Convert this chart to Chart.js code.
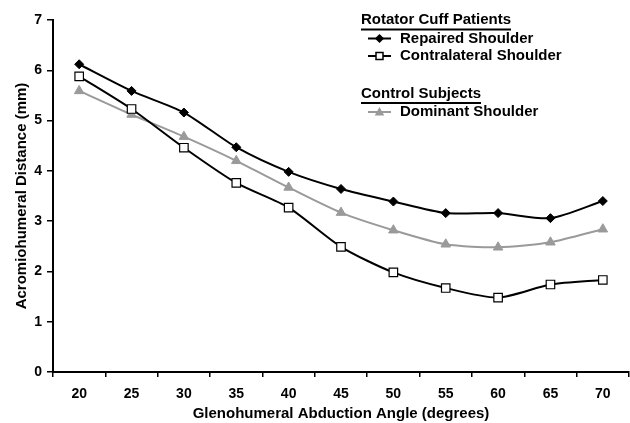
<!DOCTYPE html>
<html>
<head>
<meta charset="utf-8">
<script src="https://cdn.jsdelivr.net/npm/chart.js@4.4.1/dist/chart.umd.min.js"></script>
<style>
  body { margin: 0; background: #fff; }
  canvas { display: block; }
</style>
</head>
<body>
<canvas id="myChart" width="630" height="423"></canvas>
<script>
// abduction angles on the x axis
const angles = ["20", "25", "30", "35", "40", "45", "50", "55", "60", "65", "70"];
// acromiohumeral distance (mm)
const repaired = [6.12, 5.59, 5.16, 4.47, 3.98, 3.64, 3.39, 3.16, 3.16, 3.06, 3.40];
const contralateral = [5.88, 5.23, 4.46, 3.76, 3.27, 2.49, 1.98, 1.67, 1.48, 1.74, 1.83];
const dominant = [5.59, 5.12, 4.68, 4.20, 3.67, 3.17, 2.82, 2.54, 2.48, 2.58, 2.84];
const yTicks = [0, 1, 2, 3, 4, 5, 6, 7];

const FONT = "'Liberation Sans', Arial, sans-serif";
const GRAY = "#9a9a9a";

// legend groups like the original (header + underline, then items)
const legendGroups = [
    { title: "Rotator Cuff Patients", y: 20, items: [0, 1] },
    { title: "Control Subjects", y: 93.5, items: [2] }
];

function drawMarker(ctx, style, x, y, r, fill, stroke) {
    ctx.save();
    ctx.fillStyle = fill;
    ctx.strokeStyle = stroke;
    ctx.lineWidth = 1.5;
    ctx.beginPath();
    if (style === "rectRot") {
        ctx.moveTo(x, y - r); ctx.lineTo(x + r, y); ctx.lineTo(x, y + r); ctx.lineTo(x - r, y);
    } else if (style === "rect") {
        ctx.rect(x - r, y - r, 2 * r, 2 * r);
    } else {
        ctx.moveTo(x, y - r); ctx.lineTo(x + r, y + r * 0.8); ctx.lineTo(x - r, y + r * 0.8);
    }
    ctx.closePath();
    ctx.fill();
    ctx.stroke();
    ctx.restore();
}

const groupLegend = {
    id: "groupLegend",
    afterDraw(chart) {
        const ctx = chart.ctx;
        const ds = chart.data.datasets;
        ctx.save();
        ctx.font = "bold 15px " + FONT;
        ctx.textBaseline = "middle";
        ctx.fillStyle = "#000";
        legendGroups.forEach(g => {
            const x0 = 361;
            ctx.fillText(g.title, x0, g.y);
            const w = ctx.measureText(g.title).width;
            ctx.strokeStyle = "#000";
            ctx.lineWidth = 2;
            ctx.beginPath();
            ctx.moveTo(x0, g.y + 9.5);
            ctx.lineTo(x0 + w, g.y + 9.5);
            ctx.stroke();
            g.items.forEach((idx, k) => {
                const d = ds[idx];
                const yy = g.y + 18.5 + k * 17.5;
                ctx.strokeStyle = d.borderColor;
                ctx.lineWidth = 2;
                ctx.beginPath();
                ctx.moveTo(368, yy);
                ctx.lineTo(391, yy);
                ctx.stroke();
                drawMarker(ctx, d.pointStyle, 379.5, yy, 3.5, d.pointBackgroundColor, d.pointBorderColor);
                ctx.fillStyle = "#000";
                ctx.fillText(d.label, 400, yy);
            });
        });
        ctx.restore();
    }
};

const data = {
    labels: angles,
    datasets: [
        {
            label: "Repaired Shoulder",
            data: repaired,
            borderColor: "#000",
            borderWidth: 2,
            pointStyle: "rectRot",
            pointRadius: 4.5,
            pointBackgroundColor: "#000",
            pointBorderColor: "#000",
            pointBorderWidth: 1,
            tension: 0.25
        },
        {
            label: "Contralateral Shoulder",
            data: contralateral,
            borderColor: "#000",
            borderWidth: 2,
            pointStyle: "rect",
            pointRadius: 6,
            pointBackgroundColor: "#fff",
            pointBorderColor: "#000",
            pointBorderWidth: 1.2,
            tension: 0.25
        },
        {
            label: "Dominant Shoulder",
            data: dominant,
            borderColor: GRAY,
            borderWidth: 2,
            pointStyle: "triangle",
            pointRadius: 5.5,
            pointBackgroundColor: GRAY,
            pointBorderColor: GRAY,
            pointBorderWidth: 1,
            tension: 0.25
        }
    ]
};

const config = {
    type: "line",
    data,
    options: {
        responsive: false,
        animation: false,
        layout: { autoPadding: false, padding: { top: 20, right: 1, bottom: 0, left: 0 } },
        plugins: {
            legend: { display: false },
            tooltip: { enabled: false }
        },
        scales: {
            x: {
                type: "category",
                offset: true,
                afterFit: (s) => { s.height = 51; },
                border: { color: "#000", width: 2 },
                grid: { offset: true, drawOnChartArea: false, drawTicks: true, tickLength: 5, color: "#000", lineWidth: 1.5 },
                ticks: { color: "#000", font: { family: FONT, size: 14, weight: "bold" }, padding: 9, maxRotation: 0 },
                title: {
                    display: true,
                    text: "Glenohumeral Abduction Angle (degrees)",
                    color: "#000",
                    font: { family: FONT, size: 15, weight: "bold" },
                    padding: { top: 0, bottom: 0 }
                }
            },
            y: {
                min: 0,
                max: 7,
                afterFit: (s) => { s.width = 53; },
                afterBuildTicks: (s) => { s.ticks = yTicks.map(v => ({ value: v })); },
                border: { color: "#000", width: 2 },
                grid: { drawOnChartArea: false, drawTicks: true, tickLength: 6, color: "#000", lineWidth: 1.5 },
                ticks: { color: "#000", font: { family: FONT, size: 14, weight: "bold" }, padding: 5 },
                title: {
                    display: true,
                    text: "Acromiohumeral Distance (mm)",
                    color: "#000",
                    font: { family: FONT, size: 15, weight: "bold" },
                    padding: { top: 13, bottom: 0 }
                }
            }
        }
    },
    plugins: [groupLegend]
};

new Chart(document.getElementById("myChart"), config);
</script>
</body>
</html>
